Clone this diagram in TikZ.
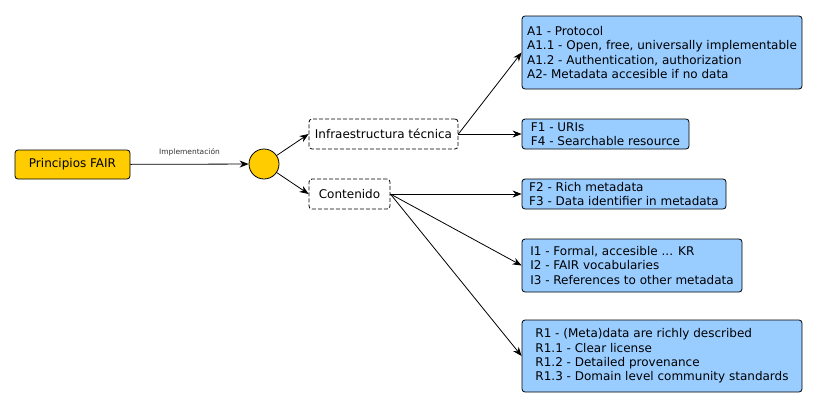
\documentclass[tikz,border=0pt]{standalone}
\usepackage{fontspec}
\setmainfont{DejaVu Sans}
\usepackage{xcolor}
\usetikzlibrary{arrows.meta}
\definecolor{gold}{RGB}{255,204,0}
\definecolor{skyblue}{RGB}{153,204,255}

\begin{document}
\begin{tikzpicture}[x=1pt,y=-1pt, >={Stealth[length=9pt,width=7pt]},
    every node/.style={font=\fontsize{12}{14.3}\selectfont},
    box/.style={draw,line width=0.8pt,rounded corners=3pt,fill=skyblue,align=left,inner sep=0pt},
    hub/.style={draw,line width=0.8pt,rounded corners=3pt,dash pattern=on 4pt off 2pt,fill=white,inner sep=0pt},
    link/.style={->,line width=0.8pt}]

    \useasboundingbox (0,0) rectangle (818,410);

    \node[draw,line width=0.8pt,rounded corners=3pt,fill=gold,minimum width=115pt,minimum height=29pt,inner sep=0pt] (fair) at (72.5,164.5) {Principios FAIR};
    \node[draw,line width=0.8pt,circle,fill=gold,minimum size=30pt,inner sep=0pt] (join) at (264,164) {};
    \node[hub,minimum width=149pt,minimum height=30pt] (infra) at (383.5,134) {Infraestructura técnica};
    \node[hub,minimum width=81pt,minimum height=30pt] (cont) at (349.5,194) {Contenido};

    \node[box,minimum width=280pt,minimum height=73pt] (acc) at (662,52.5) {A1 - Protocol\\A1.1 - Open, free, universally implementable\\A1.2 - Authentication, authorization\\A2- Metadata accesible if no data};
    \node[box,minimum width=167pt,minimum height=30pt] (find) at (605.5,134) {F1 - URIs\\F4 - Searchable resource};
    \node[box,minimum width=204pt,minimum height=30pt] (meta) at (624,194) {F2 - Rich metadata\\F3 - Data identifier in metadata};
    \node[box,minimum width=220pt,minimum height=53pt] (inter) at (632,265.5) {I1 - Formal, accesible ... KR\\I2 - FAIR vocabularies\\I3 - References to other metadata};
    \node[box,minimum width=280pt,minimum height=72pt] (reuse) at (662,356) {R1 - (Meta)data are richly described\\R1.1 - Clear license\\R1.2 - Detailed provenance\\R1.3 - Domain level community standards};

    \draw[link] (fair) -- node[above=4pt,font=\fontsize{7.5}{8}\selectfont,text=black!80]{Implementación} (join);
    \draw[link] (join) -- (infra.west);
    \draw[link] (join) -- (cont.west);
    \draw[link] (infra.east) -- (acc.west);
    \draw[link] (infra.east) -- (find.west);
    \draw[link] (cont.east) -- (meta.west);
    \draw[link] (cont.east) -- (inter.west);
    \draw[link] (cont.east) -- (reuse.west);
  \end{tikzpicture}
\end{document}
